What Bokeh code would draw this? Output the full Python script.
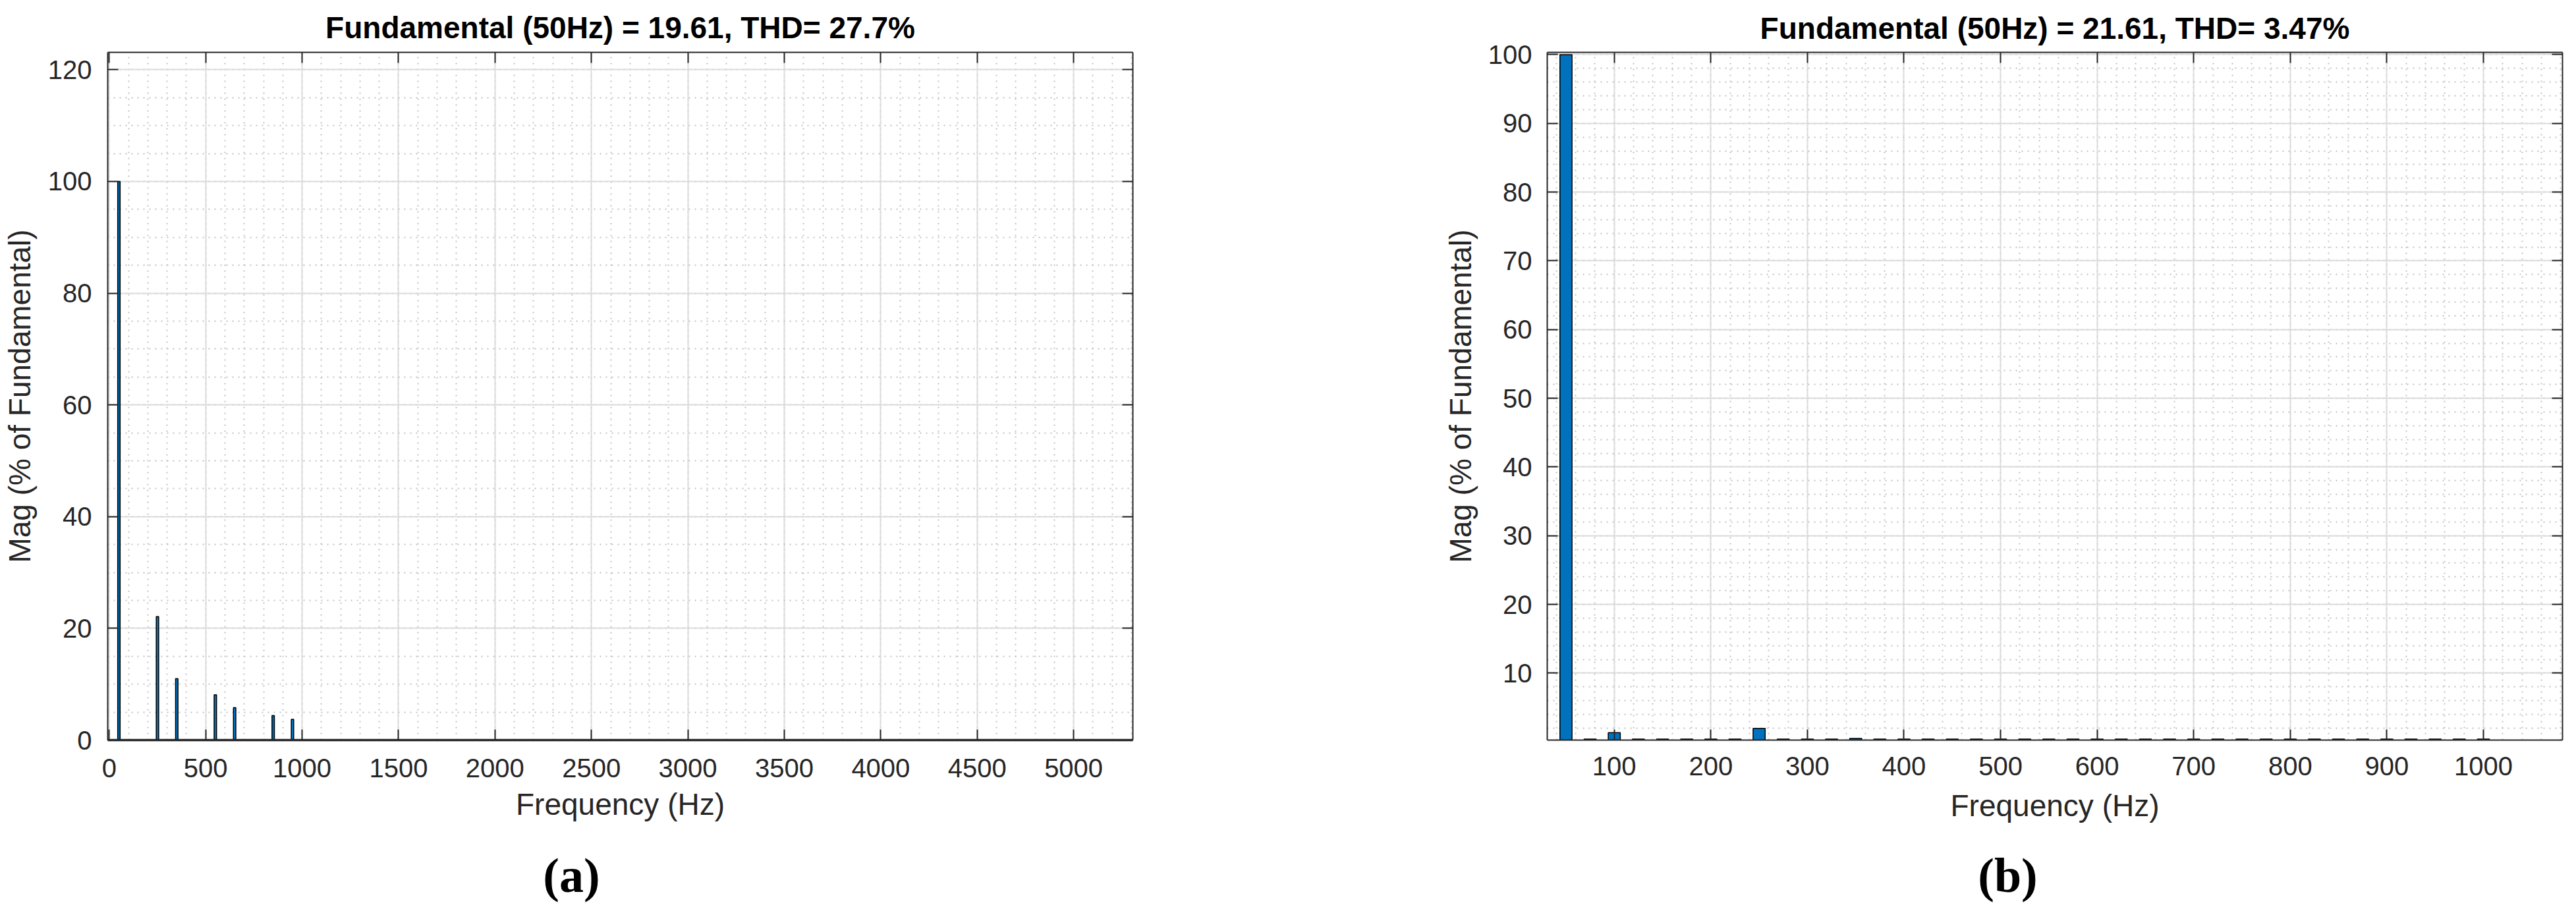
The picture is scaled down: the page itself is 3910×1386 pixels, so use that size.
from bokeh.plotting import figure
from bokeh.models import LinearAxis, SingleIntervalTicker, Range1d
from bokeh.layouts import row, column
from bokeh.embed import file_html
from bokeh.resources import INLINE

# ---------------- data ----------------
# Panel (a): harmonic spectrum, % of fundamental
a_freq = [50, 250, 350, 550, 650, 850, 950]
a_mag = [100, 22.1, 11.0, 8.1, 5.8, 4.4, 3.7]
a_title = "Fundamental (50Hz) = 19.61, THD= 27.7%"
a_label = "(a)"

# Panel (b): harmonic spectrum, % of fundamental (25 Hz bins)
b_freq = [50, 75, 100, 125, 150, 175, 200, 225, 250, 275, 300, 325, 350, 375,
          400, 425, 450, 475, 500, 525, 550, 575, 600, 625, 650, 675, 700, 725,
          750, 775, 800, 825, 850, 875, 900, 925, 950, 975, 1000]
b_mag = [100, 0.4, 1.34, 0.4, 0.4, 0.4, 0.4, 0.4, 1.96, 0.4, 0.4, 0.4, 0.5, 0.4,
         0.4, 0.4, 0.4, 0.4, 0.4, 0.4, 0.4, 0.4, 0.4, 0.4, 0.4, 0.4, 0.4, 0.4,
         0.4, 0.4, 0.4, 0.4, 0.4, 0.4, 0.4, 0.4, 0.4, 0.4, 0.4]
b_title = "Fundamental (50Hz) = 21.61, THD= 3.47%"
b_label = "(b)"

x_label = "Frequency (Hz)"
y_label = "Mag (% of Fundamental)"

FONT = "Liberation Sans"
DARK = "#262626"


def style_axis(ax, ticker, show_labels, label=None, std=20, lstd=20, line_w=2):
    ax.ticker = ticker
    ax.axis_line_color = DARK
    ax.axis_line_width = line_w
    ax.major_tick_line_color = DARK
    ax.major_tick_line_width = 2
    ax.major_tick_in = 16
    ax.major_tick_out = 0
    ax.minor_tick_line_color = None
    if show_labels:
        ax.major_label_text_font = FONT
        ax.major_label_text_font_size = "40px"
        ax.major_label_text_color = DARK
        ax.major_label_standoff = std
        ax.axis_label = label
        ax.axis_label_text_font = FONT
        ax.axis_label_text_font_size = "46px"
        ax.axis_label_text_font_style = "normal"
        ax.axis_label_text_color = DARK
        ax.axis_label_standoff = lstd
    else:
        ax.major_label_text_color = None
        ax.major_label_text_font_size = "1px"
        ax.major_label_standoff = 0
        ax.axis_label = None


def make_panel(freq, mag, title, xr, yr, xint, xminor, yint, yminor,
               width, height, mbl, mbr, mbt, mbb, title_standoff,
               xstd, xlstd, ystd, ylstd, bottom_w):
    p = figure(width=width, height=height, x_range=Range1d(*xr), y_range=Range1d(*yr),
               output_backend="svg", toolbar_location=None,
               min_border_left=mbl, min_border_right=mbr,
               min_border_top=mbt, min_border_bottom=mbb)
    p.background_fill_color = "white"
    p.border_fill_color = "white"
    p.outline_line_color = None

    p.title.text = title
    p.title.align = "center"
    p.title.vertical_align = "top"
    p.title.text_font = FONT
    p.title.text_font_size = "46px"
    p.title.text_font_style = "bold"
    p.title.text_color = "#000000"
    p.title.standoff = title_standoff

    xt = SingleIntervalTicker(interval=xint, num_minor_ticks=xminor)
    yt = SingleIntervalTicker(interval=yint, num_minor_ticks=yminor)

    style_axis(p.xaxis[0], xt, True, x_label, xstd, xlstd, bottom_w)
    style_axis(p.yaxis[0], yt, True, y_label, ystd, ylstd)
    p.xgrid[0].ticker = xt
    p.ygrid[0].ticker = yt

    top = LinearAxis()
    style_axis(top, xt, False)
    p.add_layout(top, "above")
    right = LinearAxis()
    style_axis(right, yt, False)
    p.add_layout(right, "right")

    for g in (p.xgrid[0], p.ygrid[0]):
        g.grid_line_color = "#dcdcdc"
        g.grid_line_width = 2
        g.minor_grid_line_color = "#c2c2c2"
        g.minor_grid_line_width = 2
        g.minor_grid_line_dash = "2 7"

    p.vbar(x=freq, top=mag, bottom=0, width=12.5, fill_color="#0072BD",
           line_color="#000000", line_width=1.5)
    return p


def make_caption(text, width, mbl):
    c = figure(width=width, height=100, x_range=Range1d(0, 1), y_range=Range1d(0, 1),
               x_axis_type=None, y_axis_type=None, output_backend="svg",
               toolbar_location=None, min_border_left=mbl, min_border_right=0,
               min_border_top=0, min_border_bottom=0, title_location="above")
    c.outline_line_color = None
    c.background_fill_color = "white"
    c.border_fill_color = "white"
    c.grid.visible = False
    c.title.text = text
    c.title.align = "center"
    c.title.vertical_align = "top"
    c.title.text_font = "Liberation Serif"
    c.title.text_font_size = "74px"
    c.title.text_font_style = "bold"
    c.title.text_color = "#000000"
    c.title.standoff = 4
    return c


pa = make_panel(a_freq, a_mag, a_title, (-8, 5307), (0, 123.1), 500, 5, 20, 4,
                1750, 1285, 159, 31, 73, 156, 11, 24, 12, 20, 14, 3.5)
pb = make_panel(b_freq, b_mag, b_title, (30.6, 1081.9), (0.26, 100.33), 100, 5, 10, 5,
                2160, 1285, 598, 21, 79, 162, 8.5, 21, 17, 19, 13, 2)

ca = make_caption(a_label, 1734, 0)
cb = make_caption(b_label, 2176, 450)

layout = column(row(pa, pb), row(ca, cb))
open("out.html", "w").write(file_html(layout, INLINE))
